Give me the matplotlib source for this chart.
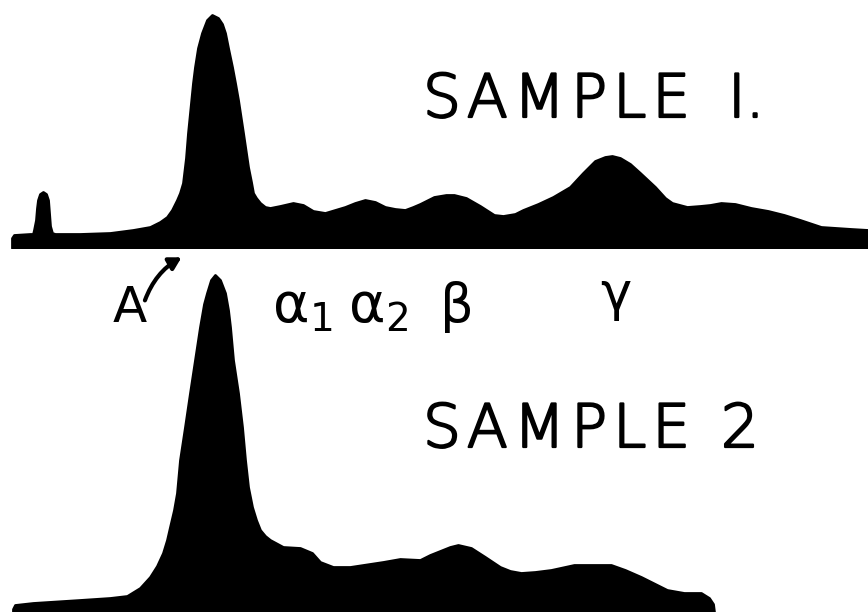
import matplotlib
matplotlib.use("Agg")
import matplotlib.pyplot as plt
import matplotlib.patheffects as pe

# Sample 1 densitometer trace: position (px along strip) and height above baseline
s1_x = [12, 14, 30, 33, 34, 36, 37, 38, 40, 43, 46, 48, 49, 50, 52, 55, 80, 110, 133, 150, 160, 167,
        172, 177, 180, 183, 186, 188, 191, 193, 195, 198, 202, 207, 212, 218, 222, 225, 228, 232,
        235, 238, 243, 248, 251, 253, 256, 260, 265, 270, 280, 293, 303, 313, 325, 335, 345, 355,
        365, 375, 385, 395, 405, 413, 420, 434, 446, 454, 466, 480, 494, 503, 515, 523, 538, 553,
        570, 583, 595, 605, 612, 620, 630, 640, 655, 665, 672, 687, 700, 710, 721, 735, 751, 768,
        784, 800, 821, 851, 868]
s1_h = [10, 13, 14, 14, 18, 28, 40, 48, 54, 56, 54, 48, 35, 22, 15, 14, 14, 15, 18, 21, 26, 31,
        38, 48, 55, 65, 90, 115, 145, 165, 181, 200, 215, 228, 233, 230, 224, 215, 200, 181,
        165, 148, 115, 81, 66, 55, 50, 45, 41, 40, 42, 45, 43, 37, 35, 38, 41, 45,
        48, 46, 41, 39, 38, 41, 44, 51, 53, 53, 50, 42, 33, 32, 34, 38, 44, 51,
        61, 75, 87, 91, 92, 90, 84, 75, 61, 50, 45, 41, 42, 43, 45, 44, 40, 37,
        33, 28, 21, 19, 18]

# Sample 2 trace
s2_x = [13, 15, 33, 80, 110, 127, 140, 150, 157, 163, 167, 170, 174, 177, 180, 185, 190, 195, 200,
        204, 207, 211, 215, 220, 225, 228, 230, 233, 238, 242, 245, 248, 252, 256, 260, 265, 270,
        283, 300, 312, 320, 333, 350, 383, 400, 420, 430, 450, 458, 471, 485, 500, 510, 521, 535,
        551, 574, 590, 611, 625, 641, 655, 667, 684, 701, 709, 713, 714]
s2_h = [3, 7, 9, 12, 14, 16, 24, 35, 46, 59, 72, 85, 102, 119, 152, 185, 219, 252, 285,
        308, 319, 332, 337, 332, 319, 302, 285, 252, 219, 185, 152, 125, 105, 92, 82, 76, 72,
        65, 64, 59, 50, 45, 45, 50, 53, 52, 57, 65, 67, 64, 55, 45, 41, 39, 40,
        42, 47, 47, 47, 42, 35, 28, 22, 19, 19, 14, 8, 0]

W, H = 868, 612
fig = plt.figure(figsize=(W / 100, H / 100), dpi=100)
fig.patch.set_facecolor("white")

# Sample 1 axes: bottom at pixel y=248
b1 = 248
ax1 = fig.add_axes([0, 1 - b1 / H, 1, 250 / H])
ax1.set_xlim(0, W)
ax1.set_ylim(0, 250)
ax1.fill_between(s1_x, 0, s1_h, color="black", linewidth=2, edgecolor="black", joinstyle="round")
ax1.axis("off")

# Sample 2 axes: bottom at pixel y=612
b2 = 612
ax2 = fig.add_axes([0, 1 - b2 / H, 1, 350 / H])
ax2.set_xlim(0, W)
ax2.set_ylim(0, 350)
ax2.fill_between(s2_x, 0, s2_h, color="black", linewidth=2, edgecolor="black", joinstyle="round")
ax2.axis("off")

# Overlay for text in pixel coordinates
ov = fig.add_axes([0, 0, 1, 1], facecolor="none")
ov.set_xlim(0, W)
ov.set_ylim(H, 0)
ov.axis("off")

plt.rcParams["mathtext.fontset"] = "dejavusans"

bold = [pe.withStroke(linewidth=1.6, foreground="black")]
hs = "\u200a"
title1 = hs.join("SAMPLE") + "  I."
title2 = hs.join("SAMPLE") + " " + hs + hs + "2"
ov.text(423, 117, title1, fontsize=43, family="DejaVu Sans", fontweight="light",
        va="baseline", ha="left", path_effects=bold)
ov.text(423, 447, title2, fontsize=43, family="DejaVu Sans", fontweight="light",
        va="baseline", ha="left", path_effects=bold)

ov.text(113, 322, "A", fontsize=36, family="DejaVu Sans", va="baseline", ha="left")
ov.annotate("", xy=(184, 256), xytext=(144, 303),
            arrowprops=dict(arrowstyle="-|>,head_length=0.7,head_width=0.4", color="black", lw=3,
                            connectionstyle="arc3,rad=-0.2"))
ov.text(272, 322, r"$\mathrm{\alpha}_1$", fontsize=40, va="baseline", ha="left")
ov.text(348, 322, r"$\mathrm{\alpha}_2$", fontsize=40, va="baseline", ha="left")
ov.text(440, 322, "β", fontsize=38, family="DejaVu Sans", va="baseline", ha="left")
ov.text(600, 310, "γ", fontsize=38, family="DejaVu Sans", va="baseline", ha="left")

fig.savefig("out.png", dpi=100, facecolor="white")
